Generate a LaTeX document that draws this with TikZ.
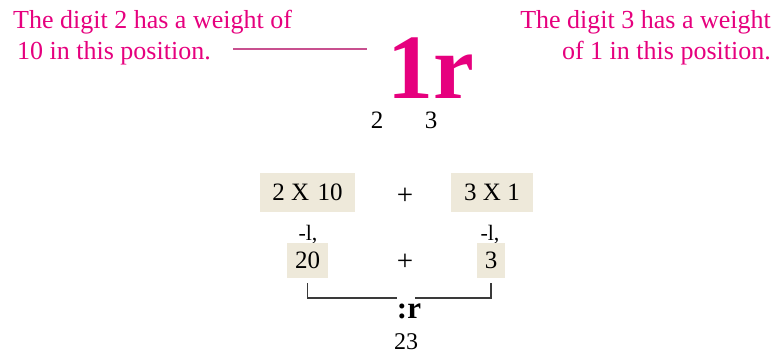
\documentclass[tikz,border=0pt]{standalone}
\usepackage{fontspec}
\setmainfont{Liberation Serif}
\usepackage{xcolor}
\definecolor{notePink}{HTML}{E6007E}
\definecolor{linkPink}{HTML}{C8508F}
\definecolor{boxBeige}{HTML}{EEE9DA}
\definecolor{bracketGray}{HTML}{3A3A3A}

\tikzset{
  note/.style={text=notePink, font=\fontsize{26}{31}\selectfont, inner sep=0pt},
  digit/.style={font=\fontsize{25}{30}\selectfont, inner sep=0pt},
  plussign/.style={font=\fontsize{29}{30}\selectfont, inner sep=0pt},
  numbox/.style={fill=boxBeige, font=\fontsize{25}{30}\selectfont, text depth=0pt, inner sep=0pt},
  weightline/.style={linkPink, line width=1.3pt},
  bracket/.style={bracketGray, line width=1.6pt}
}

\begin{document}
\begin{tikzpicture}[x=1pt, y=-1pt]
  \useasboundingbox (0,0) rectangle (781,354);
  \node[note, anchor=north west, align=left] (leftnote) at (13,10) {The digit 2 has a weight of\\\hspace{4pt}10 in this position.};
  \node[note, anchor=north east, align=right] (rightnote) at (771,10) {The digit 3 has a weight\\of 1 in this position.};
  \node[text=notePink, font=\fontsize{92}{92}\selectfont\bfseries, inner sep=0pt, text depth=0pt, anchor=base] (num) at (431,98) {1r};
  \coordinate (lineL) at (233,49);
  \coordinate (lineR) at (367,49);
  \draw[weightline] (lineL) -- (lineR);
  \node[digit, anchor=base] (d2) at (377,128) {2};
  \node[digit, anchor=base] (d3) at (431,128) {3};
  \node[numbox, minimum width=95pt, minimum height=39pt] (b2x10) at (307.5,192.5) {2 X\,\,10};
  \node[plussign] (plus1) at (405,196) {+};
  \node[numbox, minimum width=82pt, minimum height=39pt] (b3x1) at (492,192.5) {3 X 1};
  \node[digit, font=\fontsize{22}{26}\selectfont] (arr1) at (308,235) {-l,};
  \node[digit, font=\fontsize{22}{26}\selectfont] (arr2) at (490,235) {-l,};
  \node[numbox, minimum width=41pt, minimum height=35pt] (b20) at (307.5,260.5) {20};
  \node[plussign] (plus2) at (405,262) {+};
  \node[numbox, minimum width=28pt, minimum height=35pt] (b3) at (491,260.5) {3};
  \node[digit, font=\fontsize{31}{34}\selectfont\bfseries] (joinsym) at (409,311) {:r};
  \coordinate (brL) at (397,298);
  \coordinate (brR) at (415,298);
  \draw[bracket] ([yshift=-5pt]b20.south) |- (brL);
  \draw[bracket] ([yshift=-5pt]b3.south) |- (brR);
  \node[digit, font=\fontsize{24}{28}\selectfont] (total) at (406,342) {23};
\end{tikzpicture}
\end{document}
